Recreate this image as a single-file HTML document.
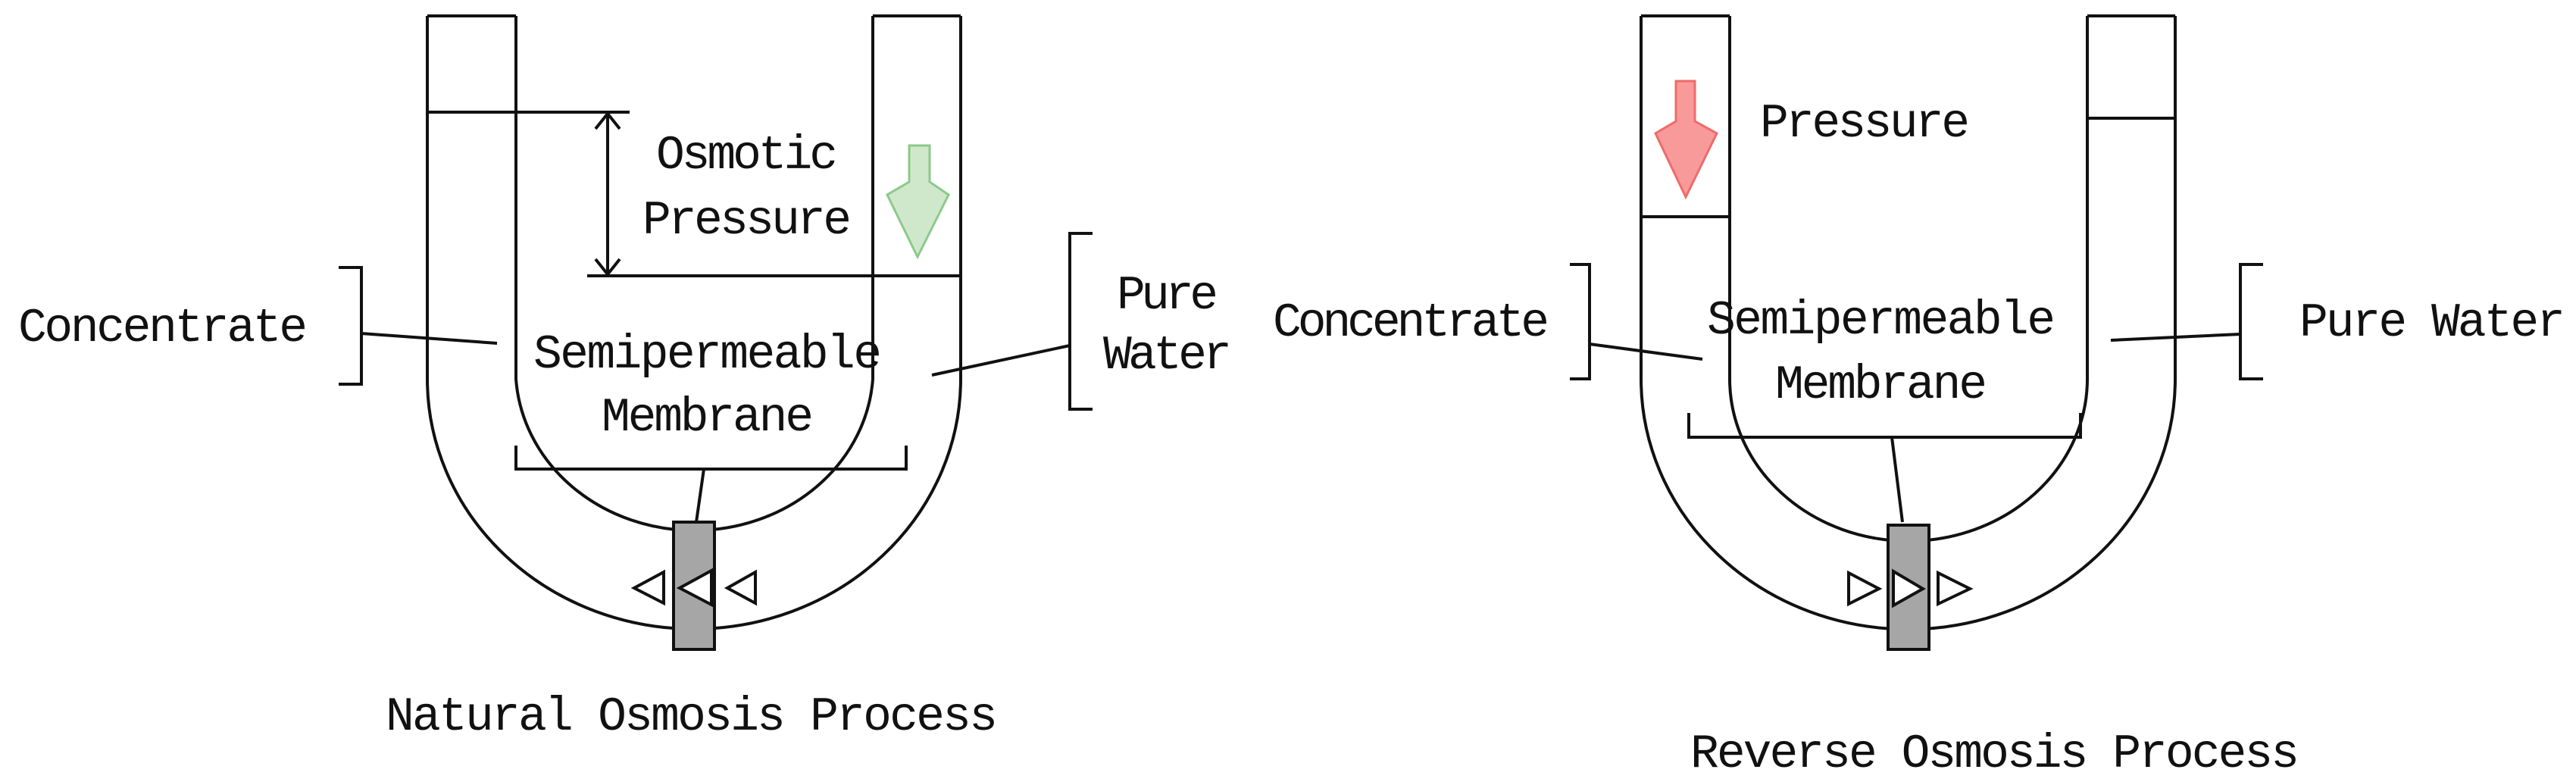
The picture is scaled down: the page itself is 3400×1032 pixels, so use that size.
<!DOCTYPE html>
<html><head><meta charset="utf-8"><style>
html,body{margin:0;padding:0;background:#fff;}
svg{display:block}
text{font-family:"Liberation Mono",monospace;font-size:63px;fill:#111;}
</style></head><body>
<svg width="3400" height="1032" viewBox="0 0 3400 1032" xmlns="http://www.w3.org/2000/svg">
<g fill="none" stroke="#111" stroke-width="4">
<!-- LEFT -->
<path d="M564,21 V500 A352,330 0 0 0 1268,500 V21"/>
<path d="M681,21 V500 A236,214 0 0 0 1152,500 V21"/>
<path d="M564,21 H681 M1152,21 H1268"/>
<path d="M564,148 H831 M775,364 H1268"/>
<path d="M802,150 V362 M786,170 L802,150 L818,170 M786,342 L802,362 L818,342"/>
<path d="M447,353 H477 V507 H447 M477,440 L656,453"/>
<path d="M1442,308 H1412 V540 H1442 M1412,456 L1230,495"/>
<path d="M681,588 V619 H1196 V588 M929,619 L919,689"/>
<!-- RIGHT -->
<path d="M2166,21 V500 A352,330 0 0 0 2871,500 V21"/>
<path d="M2283,21 V500 A236,214 0 0 0 2755,500 V21"/>
<path d="M2166,21 H2283 M2755,21 H2871"/>
<path d="M2166,286 H2283 M2755,156 H2871"/>
<path d="M2072,349 H2098 V500 H2072 M2098,454 L2247,474"/>
<path d="M2987,349 H2957 V500 H2987 M2957,441 L2786,449"/>
<path d="M2229,545 V577 H2746 V545 M2497,577 L2511,689"/>
</g>
<rect x="889" y="689" width="54" height="168" fill="#a6a6a6" stroke="#111" stroke-width="4"/>
<rect x="2492" y="693" width="54" height="164" fill="#a6a6a6" stroke="#111" stroke-width="4"/>
<g fill="#fff" stroke="#111" stroke-width="4">
<path d="M876,755 L876,796 L837,776 Z"/>
<path d="M939,753 L939,798 L897,776 Z"/>
<path d="M997,755 L997,796 L960,776 Z"/>
<path d="M2440,756 L2440,797 L2480,777 Z"/>
<path d="M2499,754 L2499,799 L2538,777 Z"/>
<path d="M2558,756 L2558,797 L2600,777 Z"/>
</g>
<path d="M1200,192 H1227 V240 L1252,257 L1211,339 L1171,257 L1200,240 Z" fill="#cfe8cc" stroke="#8cc98a" stroke-width="3"/>
<path d="M2212,107 H2237 V160 L2266,176 L2225,260 L2185,176 L2212,160 Z" fill="#f99a9a" stroke="#f06a6a" stroke-width="3"/>
<text x="986" y="222" text-anchor="middle" textLength="240">Osmotic</text>
<text x="986" y="308" text-anchor="middle" textLength="276">Pressure</text>
<text x="24" y="450" textLength="382">Concentrate</text>
<text x="934" y="485" text-anchor="middle" textLength="460">Semipermeable</text>
<text x="934" y="568" text-anchor="middle" textLength="280">Membrane</text>
<text x="1541" y="407" text-anchor="middle" textLength="134">Pure</text>
<text x="1541" y="486" text-anchor="middle" textLength="170">Water</text>
<text x="509" y="963" textLength="808">Natural Osmosis Process</text>
<text x="2323" y="180" textLength="277">Pressure</text>
<text x="1680" y="443" textLength="365">Concentrate</text>
<text x="2483" y="440" text-anchor="middle" textLength="460">Semipermeable</text>
<text x="2483" y="525" text-anchor="middle" textLength="280">Membrane</text>
<text x="3035" y="443" textLength="351">Pure Water</text>
<text x="2231" y="1012" textLength="804">Reverse Osmosis Process</text>
</svg>
</body></html>
